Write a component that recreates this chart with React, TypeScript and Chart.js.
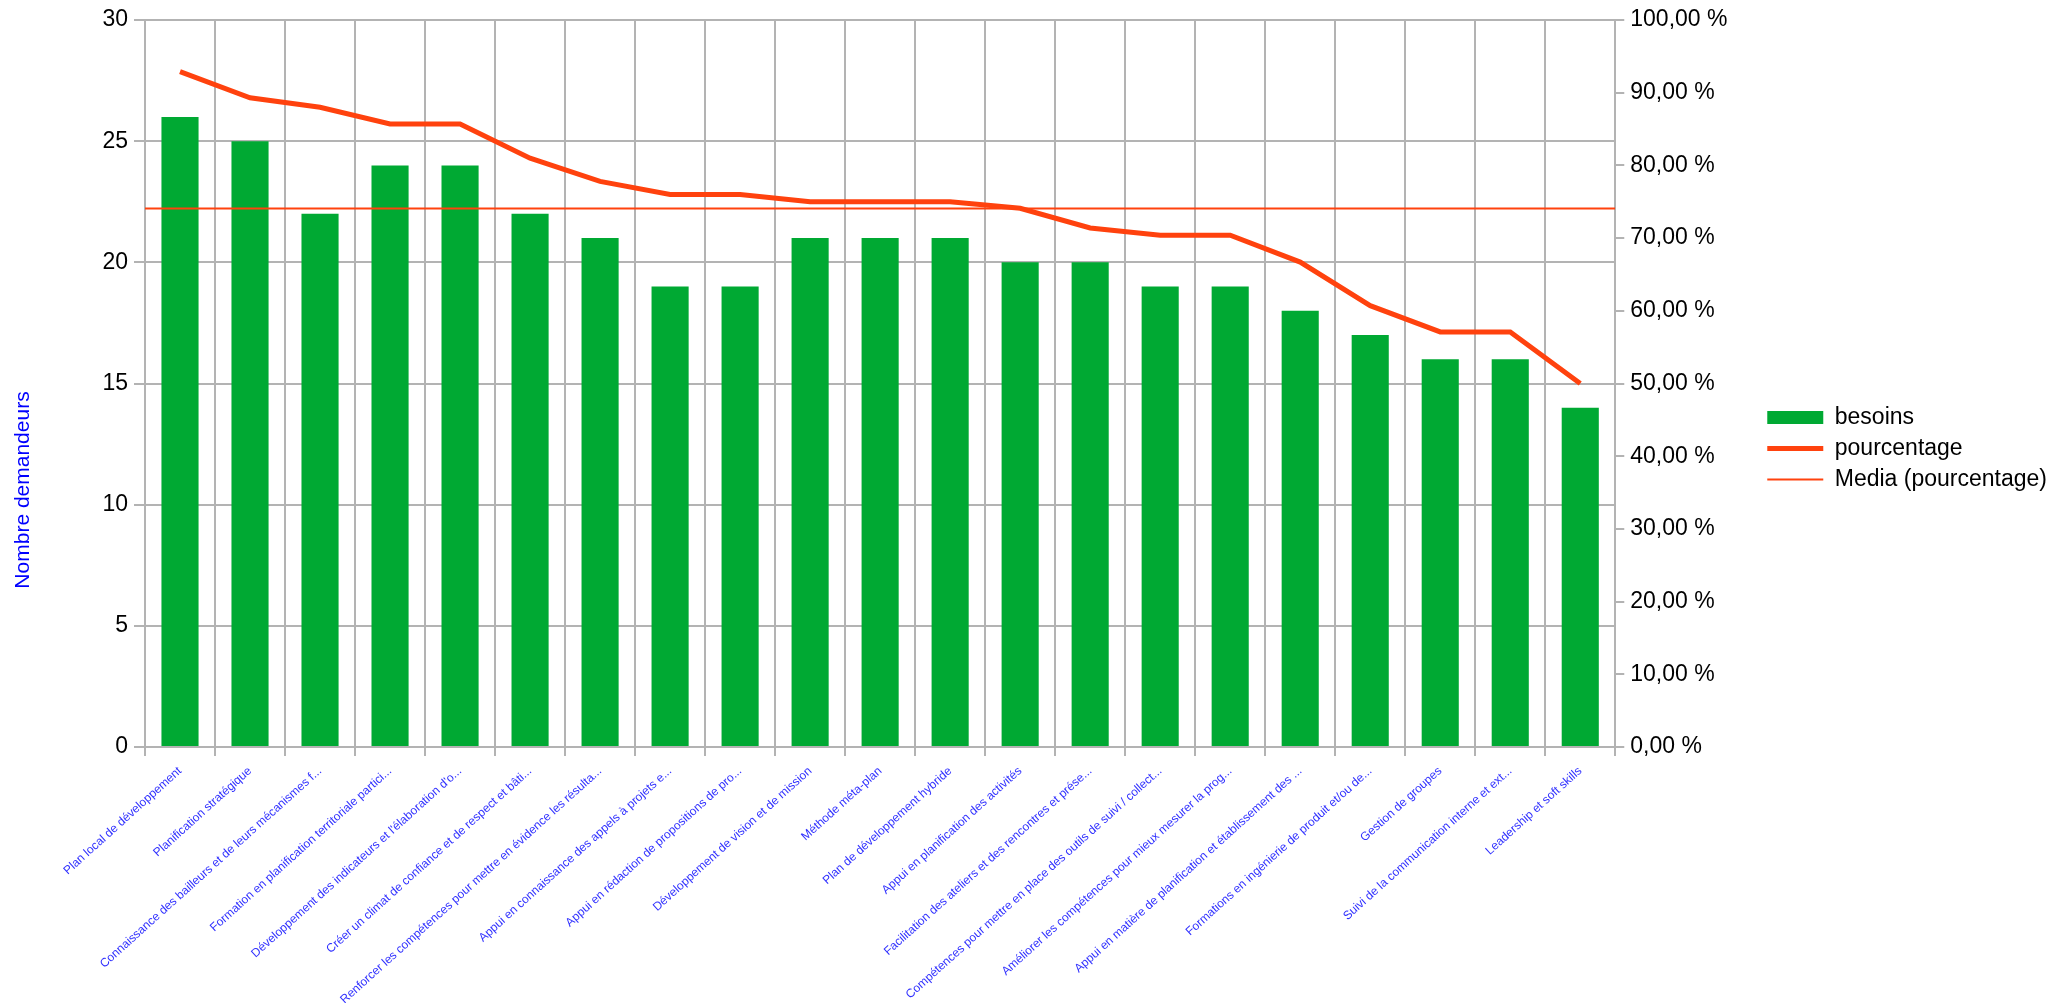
import React, { useEffect, useRef } from 'react';
import { Chart, registerables } from 'chart.js';

Chart.register(...registerables);

const categories: string[] = [
  'Plan local de développement',
  'Planification stratégique',
  'Connaissance des bailleurs et de leurs mécanismes f...',
  'Formation en planification territoriale partici...',
  "Développement des indicateurs et l'élaboration d'o...",
  'Créer un climat de confiance et de respect et bâti...',
  'Renforcer les compétences pour mettre en évidence les résulta...',
  'Appui en connaissance des appels à projets e...',
  'Appui en rédaction de propositions de pro...',
  'Développement de vision et de mission',
  'Méthode méta-plan',
  'Plan de développement hybride',
  'Appui en planification des activités',
  'Facilitation des ateliers et des rencontres et prése...',
  'Compétences pour mettre en place des outils de suivi / collect...',
  'Améliorer les compétences pour mieux mesurer la prog...',
  'Appui en matière de planification et établissement des ...',
  'Formations en ingénierie de produit et/ou de...',
  'Gestion de groupes',
  'Suivi de la communication interne et ext...',
  'Leadership et soft skills',
];

const besoins: number[] = [26, 25, 22, 24, 24, 22, 21, 19, 19, 21, 21, 21, 20, 20, 19, 19, 18, 17, 16, 16, 14];

const pourcentage: number[] = [
  92.9, 89.3, 88.0, 85.7, 85.7, 81.0, 77.8, 76.0, 76.0, 75.0, 75.0,
  75.0, 74.1, 71.4, 70.4, 70.4, 66.7, 60.7, 57.1, 57.1, 50.0,
];

const seriesNames: string[] = ['besoins', 'pourcentage', 'Media (pourcentage)'];
const yTitle = 'Nombre demandeurs';

const leftTickStep = 5;
const leftMax = 30;
const rightTickStep = 10;
const rightMax = 100;

const mediaPourcentage = pourcentage.reduce((a, b) => a + b, 0) / pourcentage.length;

const FONT = "'Liberation Sans', Arial, sans-serif";
const GRID = '#b3b3b3';

const yTitlePlugin = {
  id: 'yTitleCustom',
  afterDraw(chart: any) {
    const ctx = chart.ctx;
    ctx.save();
    ctx.translate(23, 490);
    ctx.rotate(-Math.PI / 2);
    ctx.font = `21px ${FONT}`;
    ctx.fillStyle = '#0000ff';
    ctx.textAlign = 'center';
    ctx.textBaseline = 'middle';
    ctx.fillText(yTitle, 0, 0);
    ctx.restore();
  },
};

export default function App() {
  const ref = useRef<HTMLCanvasElement | null>(null);

  useEffect(() => {
    if (!ref.current) return;
    Chart.defaults.font.family = FONT;
    const chart = new Chart(ref.current, {
      type: 'bar',
      data: {
        labels: categories,
        datasets: [
          {
            type: 'bar',
            label: seriesNames[0],
            data: besoins,
            backgroundColor: '#00a933',
            borderWidth: 0,
            grouped: false,
            barPercentage: 0.53,
            categoryPercentage: 1,
            yAxisID: 'y',
            xAxisID: 'x',
            pointStyle: 'rect',
            order: 3,
          } as any,
          {
            type: 'line',
            label: seriesNames[1],
            data: pourcentage,
            borderColor: '#ff420e',
            backgroundColor: '#ff420e',
            borderWidth: 5,
            pointRadius: 0,
            pointStyle: 'line',
            tension: 0,
            yAxisID: 'y1',
            xAxisID: 'x',
            order: 1,
          } as any,
          {
            type: 'line',
            label: seriesNames[2],
            data: [
              { x: 0, y: mediaPourcentage },
              { x: categories.length, y: mediaPourcentage },
            ],
            borderColor: '#ff420e',
            backgroundColor: '#ff420e',
            borderWidth: 2,
            pointRadius: 0,
            pointStyle: 'line',
            yAxisID: 'y1',
            xAxisID: 'x2',
            order: 2,
          } as any,
        ],
      },
      options: {
        responsive: false,
        animation: false,
        events: [],
        layout: { padding: { top: 20, right: 12, bottom: 0, left: 0 } },
        plugins: {
          legend: {
            position: 'right',
            align: 'start',
            title: {
              display: true,
              text: '',
              font: { size: 10, lineHeight: 1 },
              padding: { top: 368, bottom: 0 },
            },
            labels: {
              usePointStyle: true,
              pointStyleWidth: 56,
              boxHeight: 13,
              padding: 8,
              color: '#000000',
              font: { size: 23, family: FONT },
              sort: (a: any, b: any) => a.datasetIndex - b.datasetIndex,
            },
          },
          tooltip: { enabled: false },
        },
        scales: {
          x: {
            type: 'category',
            offset: true,
            grid: { offset: true, color: GRID, lineWidth: 2, drawTicks: true, tickLength: 9 },
            border: { color: GRID, width: 2 },
            ticks: {
              autoSkip: false,
              minRotation: 42,
              maxRotation: 42,
              color: '#3030ff',
              font: { size: 12, family: FONT },
              padding: 8,
            },
            afterFit: (s: any) => {
              s.height = 256;
            },
          },
          x2: {
            type: 'linear',
            display: false,
            min: 0,
            max: categories.length,
            offset: false,
          },
          y: {
            position: 'left',
            min: 0,
            max: leftMax,
            ticks: {
              stepSize: leftTickStep,
              color: '#000000',
              font: { size: 23, family: FONT },
              padding: 6,
            },
            grid: { color: GRID, lineWidth: 2, tickLength: 11 },
            border: { color: GRID, width: 2 },
            afterFit: (s: any) => {
              s.width = 145;
            },
          },
          y1: {
            position: 'right',
            min: 0,
            max: rightMax,
            ticks: {
              stepSize: rightTickStep,
              color: '#000000',
              font: { size: 23, family: FONT },
              padding: 6,
              callback: (v: any) => Number(v).toFixed(2).replace('.', ',') + ' %',
            },
            grid: { drawOnChartArea: false, color: GRID, lineWidth: 2, tickLength: 9 },
            border: { color: GRID, width: 2 },
            afterFit: (s: any) => {
              s.width = 144;
            },
          },
        },
      } as any,
      plugins: [yTitlePlugin],
    });
    return () => chart.destroy();
  }, []);

  return (
    <div style={{ position: 'absolute', left: 0, top: 0, width: 2069, height: 1003, overflow: 'hidden', background: '#fff' }}>
      <canvas ref={ref} width={2069} height={1003} style={{ display: 'block' }} />
    </div>
  );
}
